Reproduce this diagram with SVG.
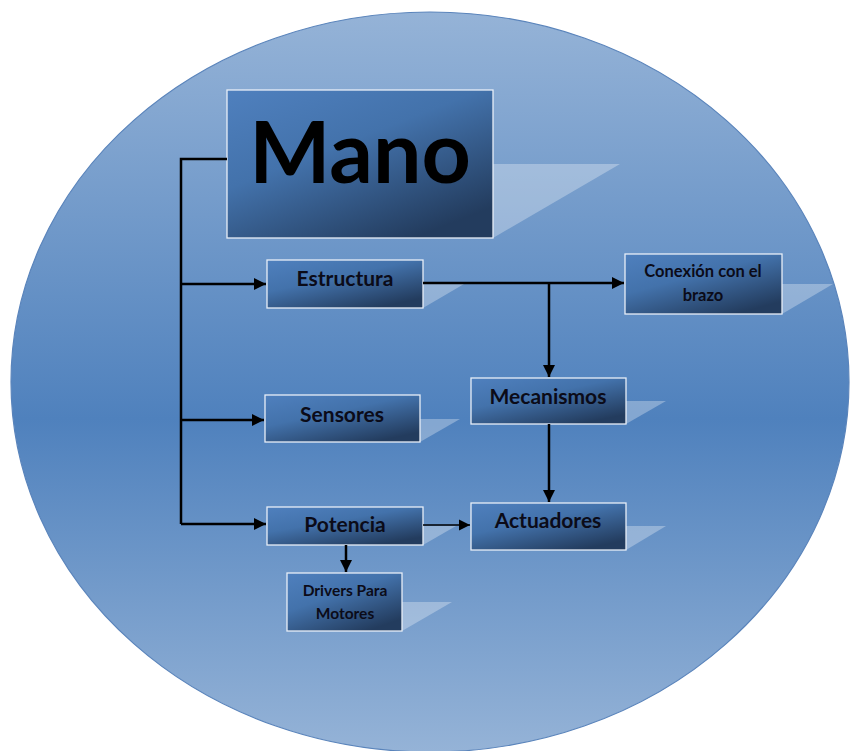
<svg xmlns="http://www.w3.org/2000/svg" width="850" height="751" viewBox="0 0 850 751">
<defs>
<linearGradient id="bg" x1="0" y1="0" x2="0" y2="1">
<stop offset="0" stop-color="#95b3d7"/>
<stop offset="0.55" stop-color="#4f81bd"/>
<stop offset="1" stop-color="#95b3d7"/>
</linearGradient>
<linearGradient id="box" x1="0" y1="0" x2="0.7" y2="1">
<stop offset="0" stop-color="#4f80be"/>
<stop offset="0.45" stop-color="#4372ab"/>
<stop offset="1" stop-color="#233c5e"/>
</linearGradient>
<marker id="arr" viewBox="0 0 10 10" refX="10" refY="5" markerWidth="5" markerHeight="5" markerUnits="strokeWidth" orient="auto">
<path d="M0,0 L10,5 L0,10 z" fill="#000"/>
</marker>
<marker id="arrT" viewBox="0 0 10 10" refX="10" refY="5" markerWidth="7" markerHeight="7" markerUnits="strokeWidth" orient="auto">
<path d="M0,0 L10,5 L0,10 z" fill="#000"/>
</marker>
</defs>
<style>
.node rect{fill:url(#box);stroke:#e8eef7;stroke-width:1.3}
.refl{fill:#ffffff;fill-opacity:0.3}
.t{font-family:Lato,"Open Sans","DejaVu Sans",sans-serif;font-weight:700;fill:#0b0b18;text-anchor:middle}
.c{fill:none;stroke:#000;stroke-width:2.5}
.ct{fill:none;stroke:#000;stroke-width:1.6}
</style>
<ellipse cx="430" cy="382" rx="419" ry="370" fill="url(#bg)" stroke="#5a84bb" stroke-width="1.2"/>

<g id="mano" class="node">
<polygon class="refl" points="493,164 620,164 493,238"/>
<rect x="227" y="90" width="266" height="148"/>
<text class="t" x="360" y="183" font-size="86" style="fill:#000">Mano</text>
</g>
<g id="estructura" class="node">
<polygon class="refl" points="423,284 464,284 423,308"/>
<rect x="267" y="260" width="156" height="48"/>
<text class="t" x="345" y="286" font-size="21">Estructura</text>
</g>
<g id="conexion" class="node">
<polygon class="refl" points="782,284 833,284 782,314"/>
<rect x="625" y="254" width="157" height="60"/>
<text class="t" x="703" y="277" font-size="16.5">Conexión con el</text>
<text class="t" x="703" y="301" font-size="16.5">brazo</text>
</g>
<g id="sensores" class="node">
<polygon class="refl" points="420,419 460,419 420,442"/>
<rect x="265" y="395" width="155" height="47"/>
<text class="t" x="342" y="422" font-size="21">Sensores</text>
</g>
<g id="mecanismos" class="node">
<polygon class="refl" points="626,401 666,401 626,424"/>
<rect x="471" y="378" width="155" height="46"/>
<text class="t" x="548" y="404" font-size="21">Mecanismos</text>
</g>
<g id="potencia" class="node">
<polygon class="refl" points="423,526 456,526 423,545"/>
<rect x="267" y="507" width="156" height="38"/>
<text class="t" x="345" y="532" font-size="21">Potencia</text>
</g>
<g id="actuadores" class="node">
<polygon class="refl" points="626,526 666,526 626,550"/>
<rect x="471" y="503" width="155" height="47"/>
<text class="t" x="548" y="528" font-size="21">Actuadores</text>
</g>
<g id="drivers" class="node">
<polygon class="refl" points="402,602 452,602 402,631"/>
<rect x="287" y="573" width="115" height="58"/>
<text class="t" x="345" y="596" font-size="15.5">Drivers Para</text>
<text class="t" x="345" y="619" font-size="15.5">Motores</text>
</g>

<g id="connectors">
<path class="c" d="M227,159 H181 V524"/>
<path class="c" d="M181,284 H266" marker-end="url(#arr)"/>
<path class="c" d="M181,420 H264" marker-end="url(#arr)"/>
<path class="c" d="M181,524 H266" marker-end="url(#arr)"/>
<path class="c" d="M423,283 H624" marker-end="url(#arr)"/>
<path class="c" d="M549,283 V377" marker-end="url(#arr)"/>
<path class="c" d="M549,424 V502" marker-end="url(#arr)"/>
<path class="ct" d="M423,525 H470" marker-end="url(#arrT)"/>
<path class="c" d="M346,545 V572" marker-end="url(#arr)"/>
</g>
</svg>
